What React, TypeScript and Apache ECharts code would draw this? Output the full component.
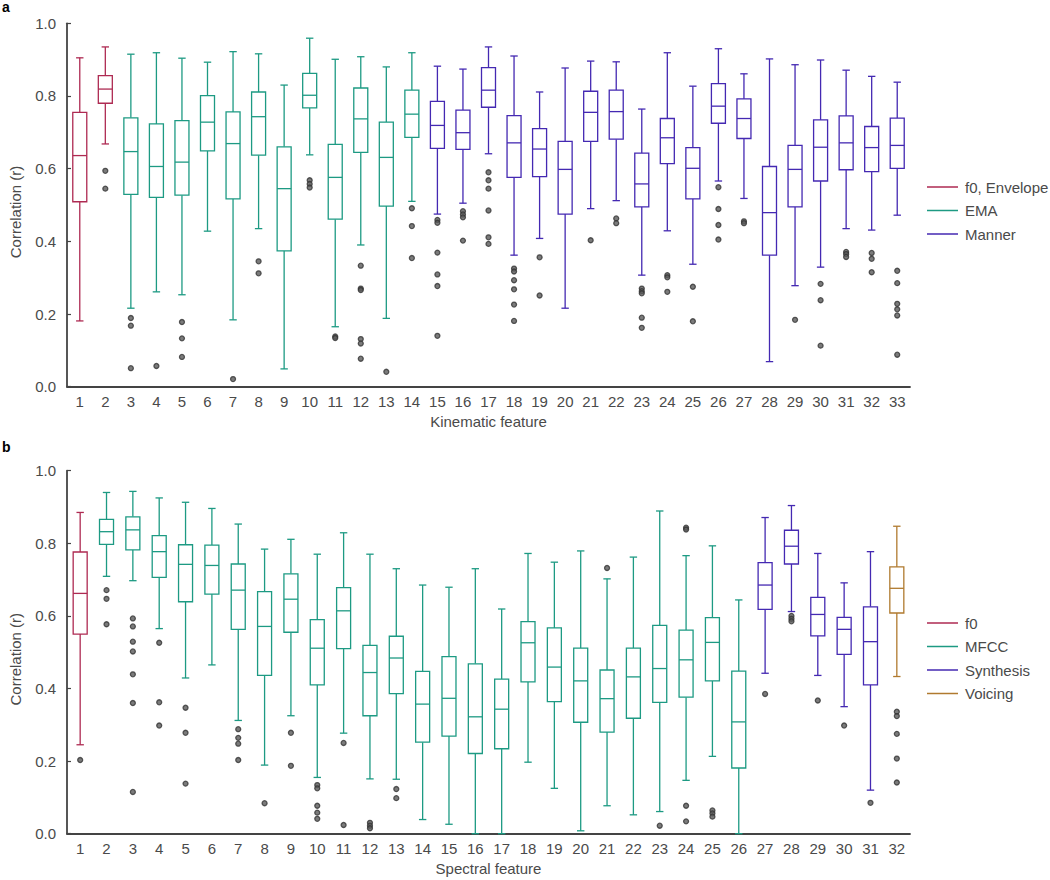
import React, { useEffect, useRef } from "react";
import * as echarts from "echarts";

// ---------- Panel a: kinematic features ----------
const kinCategories = ["1","2","3","4","5","6","7","8","9","10","11","12","13","14","15","16","17","18","19","20","21","22","23","24","25","26","27","28","29","30","31","32","33"];
const kinLow  = [0.181,0.668,0.216,0.261,0.253,0.428,0.184,0.435,0.049,0.638,0.165,0.390,0.188,0.510,0.475,0.505,0.641,0.362,0.408,0.216,0.490,0.512,0.307,0.429,0.337,0.566,0.518,0.069,0.278,0.329,0.435,0.431,0.472];
const kinQ1   = [0.509,0.780,0.529,0.521,0.527,0.649,0.517,0.637,0.374,0.767,0.461,0.645,0.497,0.686,0.656,0.653,0.769,0.576,0.578,0.475,0.675,0.681,0.495,0.614,0.517,0.725,0.683,0.362,0.495,0.566,0.597,0.592,0.601];
const kinMed  = [0.636,0.819,0.647,0.606,0.618,0.728,0.669,0.743,0.545,0.802,0.576,0.737,0.631,0.750,0.719,0.699,0.816,0.671,0.654,0.598,0.755,0.757,0.558,0.685,0.601,0.772,0.738,0.479,0.598,0.659,0.671,0.658,0.664];
const kinQ3   = [0.755,0.856,0.740,0.723,0.732,0.801,0.756,0.811,0.660,0.862,0.667,0.822,0.728,0.816,0.785,0.761,0.878,0.746,0.710,0.675,0.813,0.816,0.643,0.738,0.658,0.834,0.792,0.606,0.664,0.734,0.745,0.716,0.739];
const kinHigh = [0.905,0.935,0.915,0.919,0.904,0.893,0.922,0.916,0.830,0.959,0.901,0.908,0.880,0.919,0.882,0.874,0.935,0.910,0.811,0.877,0.896,0.894,0.764,0.919,0.827,0.930,0.861,0.902,0.886,0.899,0.871,0.854,0.838];
const kinGroup = [0,0,1,1,1,1,1,1,1,1,1,1,1,1,2,2,2,2,2,2,2,2,2,2,2,2,2,2,2,2,2,2,2];
const kinOutliers: number[][] = [
  [],
  [0.594,0.545],
  [0.189,0.168,0.051],
  [0.057],
  [0.178,0.133,0.082],
  [],
  [0.021],
  [0.345,0.312],
  [],
  [0.568,0.558,0.548],
  [0.138,0.134],
  [0.333,0.270,0.266,0.131,0.119,0.077],
  [0.041],
  [0.491,0.442,0.354],
  [0.459,0.451,0.369,0.309,0.277,0.140],
  [0.483,0.474,0.466,0.402],
  [0.590,0.568,0.545,0.485,0.411,0.393],
  [0.325,0.317,0.293,0.268,0.226,0.181],
  [0.356,0.251],
  [],
  [0.403],
  [0.463,0.450],
  [0.270,0.263,0.257,0.190,0.162],
  [0.307,0.301,0.261],
  [0.275,0.180],
  [0.549,0.489,0.445,0.405],
  [0.455,0.450],
  [],
  [0.184],
  [0.283,0.238,0.113],
  [0.371,0.365,0.357],
  [0.368,0.352,0.315],
  [0.319,0.285,0.228,0.213,0.196,0.088],
];
const kinGroupNames = ["f0, Envelope", "EMA", "Manner"];

// ---------- Panel b: spectral features ----------
const specCategories = ["1","2","3","4","5","6","7","8","9","10","11","12","13","14","15","16","17","18","19","20","21","22","23","24","25","26","27","28","29","30","31","32"];
const specLow  = [0.245,0.709,0.697,0.565,0.429,0.465,0.312,0.189,0.325,0.155,0.277,0.151,0.150,0.039,0.026,0.000,0.000,0.197,0.125,0.008,0.077,0.052,0.061,0.147,0.213,0.000,0.442,0.612,0.436,0.350,0.120,0.433];
const specQ1   = [0.550,0.797,0.782,0.706,0.639,0.660,0.563,0.436,0.555,0.410,0.510,0.325,0.386,0.252,0.269,0.221,0.234,0.418,0.364,0.307,0.280,0.318,0.362,0.376,0.421,0.181,0.618,0.743,0.545,0.494,0.410,0.608];
const specMed  = [0.662,0.832,0.837,0.777,0.742,0.739,0.671,0.571,0.646,0.511,0.614,0.444,0.484,0.357,0.373,0.322,0.343,0.526,0.459,0.421,0.372,0.432,0.455,0.479,0.527,0.308,0.685,0.792,0.604,0.563,0.529,0.676];
const specQ3   = [0.776,0.866,0.873,0.821,0.796,0.795,0.743,0.667,0.716,0.590,0.678,0.519,0.544,0.447,0.488,0.468,0.426,0.584,0.567,0.511,0.451,0.511,0.574,0.561,0.595,0.448,0.747,0.836,0.651,0.596,0.625,0.735];
const specHigh = [0.885,0.940,0.943,0.925,0.913,0.896,0.853,0.784,0.811,0.770,0.829,0.770,0.730,0.685,0.679,0.730,0.619,0.772,0.748,0.779,0.702,0.762,0.889,0.766,0.793,0.644,0.871,0.904,0.772,0.691,0.777,0.847];
const specGroup = [0,1,1,1,1,1,1,1,1,1,1,1,1,1,1,1,1,1,1,1,1,1,1,1,1,1,2,2,2,2,2,3];
const specOutliers: number[][] = [
  [0.203],
  [0.671,0.647,0.577],
  [0.593,0.571,0.529,0.502,0.439,0.360,0.115],
  [0.526,0.362,0.298],
  [0.347,0.278,0.138],
  [],
  [0.288,0.264,0.248,0.203],
  [0.084],
  [0.278,0.187],
  [0.134,0.125,0.077,0.058,0.041],
  [0.250,0.024],
  [0.030,0.022,0.015],
  [0.123,0.098],
  [],
  [],
  [],
  [],
  [],
  [],
  [],
  [0.732],
  [],
  [0.022],
  [0.843,0.838,0.077,0.034],
  [0.064,0.056,0.047],
  [],
  [0.385],
  [0.600,0.592,0.585],
  [0.367],
  [0.298],
  [0.085],
  [0.336,0.324,0.275,0.207,0.141],
];
const specGroupNames = ["f0", "MFCC", "Synthesis", "Voicing"];

const RED = "#AE2A52";
const TEAL = "#1D9A83";
const PURPLE = "#4429B2";
const ORANGE = "#B07A2F";
const kinColors = [RED, TEAL, PURPLE];
const specColors = [RED, TEAL, PURPLE, ORANGE];

const FONT = "'Liberation Sans', Arial, sans-serif";
const TEXT = "#4a4a4a";
const FS = 15;

function makeRenderer(colors: string[]) {
  return (params: any, api: any) => {
    const x = api.value(0);
    const low = api.coord([x, api.value(1)]);
    const q1 = api.coord([x, api.value(2)]);
    const med = api.coord([x, api.value(3)]);
    const q3 = api.coord([x, api.value(4)]);
    const high = api.coord([x, api.value(5)]);
    const color = colors[api.value(6)];
    const cx = low[0];
    const hb = 7;
    const hc = 3.7;
    const style = { stroke: color, lineWidth: 1.3, fill: "none" };
    return {
      type: "group",
      children: [
        { type: "line", shape: { x1: cx, y1: low[1], x2: cx, y2: q1[1] }, style },
        { type: "line", shape: { x1: cx, y1: q3[1], x2: cx, y2: high[1] }, style },
        { type: "line", shape: { x1: cx - hc, y1: low[1], x2: cx + hc, y2: low[1] }, style },
        { type: "line", shape: { x1: cx - hc, y1: high[1], x2: cx + hc, y2: high[1] }, style },
        { type: "rect", shape: { x: cx - hb, y: q3[1], width: 2 * hb, height: q1[1] - q3[1] }, style: { ...style, fill: "#fff" } },
        { type: "line", shape: { x1: cx - hb, y1: med[1], x2: cx + hb, y2: med[1] }, style },
      ],
    };
  };
}

function boxData(low: number[], q1: number[], med: number[], q3: number[], high: number[], group: number[]) {
  return low.map((l, i) => [i, l, q1[i], med[i], q3[i], high[i], group[i]]);
}
function outlierData(outs: number[][]) {
  const res: number[][] = [];
  outs.forEach((arr, i) => arr.forEach((v) => res.push([i, v])));
  return res;
}

function xAxisFor(gridIndex: number, data: string[], name: string) {
  return {
    type: "category",
    gridIndex,
    data,
    boundaryGap: true,
    name,
    nameLocation: "middle",
    nameGap: 27,
    nameTextStyle: { fontSize: FS, color: TEXT, fontFamily: FONT },
    axisLine: { lineStyle: { color: "#444", width: 1.8 } },
    axisTick: { inside: true, length: 4, alignWithLabel: true, lineStyle: { color: "#444", width: 1.2 } },
    axisLabel: { fontSize: FS, color: TEXT, fontFamily: FONT, margin: 7, interval: 0 },
    splitLine: { show: false },
  };
}
function yAxisFor(gridIndex: number) {
  return {
    type: "value",
    gridIndex,
    min: 0,
    max: 1,
    interval: 0.2,
    name: "Correlation (r)",
    nameLocation: "middle",
    nameGap: 44,
    nameTextStyle: { fontSize: FS, color: TEXT, fontFamily: FONT, padding: [0, 14, 0, 0] },
    axisLine: { show: true, lineStyle: { color: "#444", width: 1.8 } },
    axisTick: { show: true, inside: true, length: 4, lineStyle: { color: "#444", width: 1.2 } },
    axisLabel: { fontSize: FS, color: TEXT, fontFamily: FONT, margin: 11, formatter: (v: number) => v.toFixed(1) },
    splitLine: { show: false },
  };
}

const legendIcon = "path://M0,0 L31,0 L31,1.5 L0,1.5 Z";

export default function App() {
  const ref = useRef<HTMLDivElement>(null);
  useEffect(() => {
    if (!ref.current) return;
    const chart = echarts.init(ref.current, null, { renderer: "svg" });
    const legendSeries = (names: string[], colors: string[], idx: number) =>
      names.map((n, i) => ({
        type: "line",
        name: n,
        data: [],
        xAxisIndex: idx,
        yAxisIndex: idx,
        itemStyle: { color: colors[i] },
        lineStyle: { color: colors[i] },
      }));
    chart.setOption({
      animation: false,
      textStyle: { fontFamily: FONT },
      grid: [
        { left: 55, right: 140, top: 23.3, height: 363.4 },
        { left: 55, right: 140, top: 470.7, height: 363 },
      ],
      xAxis: [xAxisFor(0, kinCategories, "Kinematic feature"), xAxisFor(1, specCategories, "Spectral feature")],
      yAxis: [yAxisFor(0), yAxisFor(1)],
      legend: [
        {
          data: kinGroupNames,
          orient: "vertical",
          left: 922,
          top: 174.5,
          icon: legendIcon,
          itemWidth: 31,
          itemHeight: 14,
          itemGap: 8.5,
          selectedMode: false,
          textStyle: { fontSize: FS, color: TEXT, fontFamily: FONT, padding: [0, 0, 0, 2] },
        },
        {
          data: specGroupNames,
          orient: "vertical",
          left: 922,
          top: 610.5,
          icon: legendIcon,
          itemWidth: 31,
          itemHeight: 14,
          itemGap: 8.5,
          selectedMode: false,
          textStyle: { fontSize: FS, color: TEXT, fontFamily: FONT, padding: [0, 0, 0, 2] },
        },
      ],
      graphic: [
        { type: "text", left: 2, top: 0, style: { text: "a", font: `bold 14px ${FONT}`, fill: "#000" } },
        { type: "text", left: 2, top: 440, style: { text: "b", font: `bold 14px ${FONT}`, fill: "#000" } },
      ],
      series: [
        {
          type: "custom",
          xAxisIndex: 0,
          yAxisIndex: 0,
          renderItem: makeRenderer(kinColors),
          encode: { x: 0, y: [1, 2, 3, 4, 5] },
          data: boxData(kinLow, kinQ1, kinMed, kinQ3, kinHigh, kinGroup),
          z: 2,
        },
        {
          type: "scatter",
          xAxisIndex: 0,
          yAxisIndex: 0,
          symbol: "circle",
          symbolSize: 5,
          itemStyle: { color: "#5a5a5a", borderColor: "#333", borderWidth: 1.3 },
          data: outlierData(kinOutliers),
          z: 3,
        },
        {
          type: "custom",
          xAxisIndex: 1,
          yAxisIndex: 1,
          renderItem: makeRenderer(specColors),
          encode: { x: 0, y: [1, 2, 3, 4, 5] },
          data: boxData(specLow, specQ1, specMed, specQ3, specHigh, specGroup),
          z: 2,
        },
        {
          type: "scatter",
          xAxisIndex: 1,
          yAxisIndex: 1,
          symbol: "circle",
          symbolSize: 5,
          itemStyle: { color: "#5a5a5a", borderColor: "#333", borderWidth: 1.3 },
          data: outlierData(specOutliers),
          z: 3,
        },
        ...legendSeries(kinGroupNames, kinColors, 0),
        ...legendSeries(specGroupNames, specColors, 1),
      ],
    });
    return () => chart.dispose();
  }, []);
  return (
    <div
      ref={ref}
      style={{ position: "absolute", left: 0, top: 0, width: 1050, height: 880, background: "#fff" }}
    />
  );
}
